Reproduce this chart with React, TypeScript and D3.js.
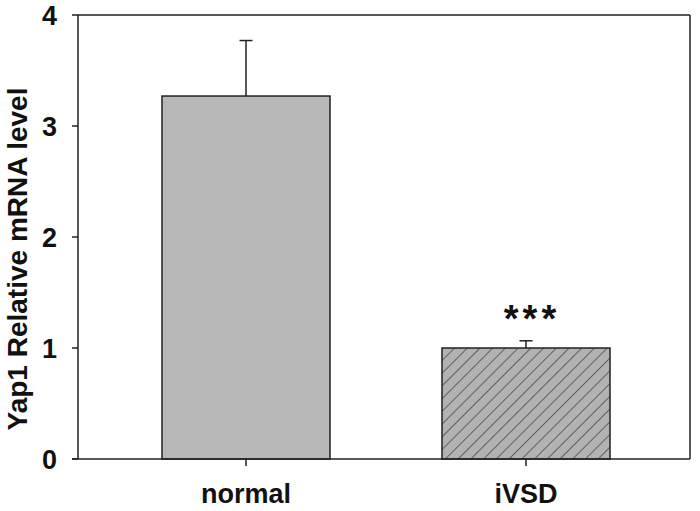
import React from "react";
import * as d3 from "d3";

const categories = ["normal", "iVSD"];
const means = [3.27, 1.0];
const errors = [0.5, 0.065];
const yTicks = [0, 1, 2, 3, 4];
const significance = ["", "***"];

const W = 700;
const H = 511;
const left = 78;
const right = 690;
const top = 15;
const bottom = 459;

export default function App() {
  const x = d3.scaleBand<string>().domain(categories).range([left, right + 4]).paddingInner(0.4).paddingOuter(0.3);
  const y = d3.scaleLinear().domain([0, 4]).range([bottom, top]);
  const font = "'Liberation Sans', Arial, sans-serif";
  return (
    <svg width={W} height={H} style={{ position: "absolute", left: 0, top: 0, background: "#fff" }}>
      <defs>
        <pattern id="hatch" patternUnits="userSpaceOnUse" width="9" height="9" patternTransform="rotate(45)">
          <rect width="9" height="9" fill="#b2b2b2" />
          <line x1="0" y1="0" x2="0" y2="9" stroke="#333" strokeWidth="1.3" />
        </pattern>
      </defs>
      {categories.map((c, i) => {
        const x0 = x(c)!;
        const bw = x.bandwidth();
        const cx = x0 + bw / 2;
        return (
          <g key={c}>
            <line x1={cx} x2={cx} y1={y(means[i])} y2={y(means[i] + errors[i])} stroke="#222" strokeWidth={1.5} />
            <line x1={cx - 6.5} x2={cx + 6.5} y1={y(means[i] + errors[i])} y2={y(means[i] + errors[i])} stroke="#222" strokeWidth={1.5} />
            <rect x={x0} y={y(means[i])} width={bw} height={y(0) - y(means[i])} fill={i === 0 ? "#b8b8b8" : "url(#hatch)"} stroke="#222" strokeWidth={1.5} />
            {significance[i] && (
              <text x={cx + 6} y={y(means[i] + errors[i]) - 9} textAnchor="middle" fontFamily={font} fontWeight="bold" fontSize={38} letterSpacing={4} fill="#111">
                {significance[i]}
              </text>
            )}
            <line x1={cx} x2={cx} y1={bottom} y2={bottom + 7} stroke="#222" strokeWidth={1.5} />
            <text x={cx} y={503} textAnchor="middle" fontFamily={font} fontWeight="bold" fontSize={27} fill="#111">
              {c}
            </text>
          </g>
        );
      })}
      {/* frame */}
      <line x1={left} x2={left} y1={top} y2={bottom} stroke="#222" strokeWidth={1.5} />
      <line x1={left - 6} x2={right} y1={bottom} y2={bottom} stroke="#222" strokeWidth={1.5} />
      <line x1={left} x2={right} y1={top} y2={top} stroke="#222" strokeWidth={1.5} />
      <line x1={right} x2={right} y1={top} y2={bottom} stroke="#222" strokeWidth={1.5} />
      {yTicks.map((t) => (
        <g key={t}>
          <line x1={left - 6} x2={left} y1={y(t)} y2={y(t)} stroke="#222" strokeWidth={1.5} />
          <text x={57} y={y(t) + 10} textAnchor="end" fontFamily={font} fontWeight="bold" fontSize={27} fill="#111">
            {t}
          </text>
        </g>
      ))}
      <text transform={`translate(27,259) rotate(-90)`} textAnchor="middle" fontFamily={font} fontWeight="bold" fontSize={28} fill="#111">
        Yap1 Relative mRNA level
      </text>
    </svg>
  );
}
